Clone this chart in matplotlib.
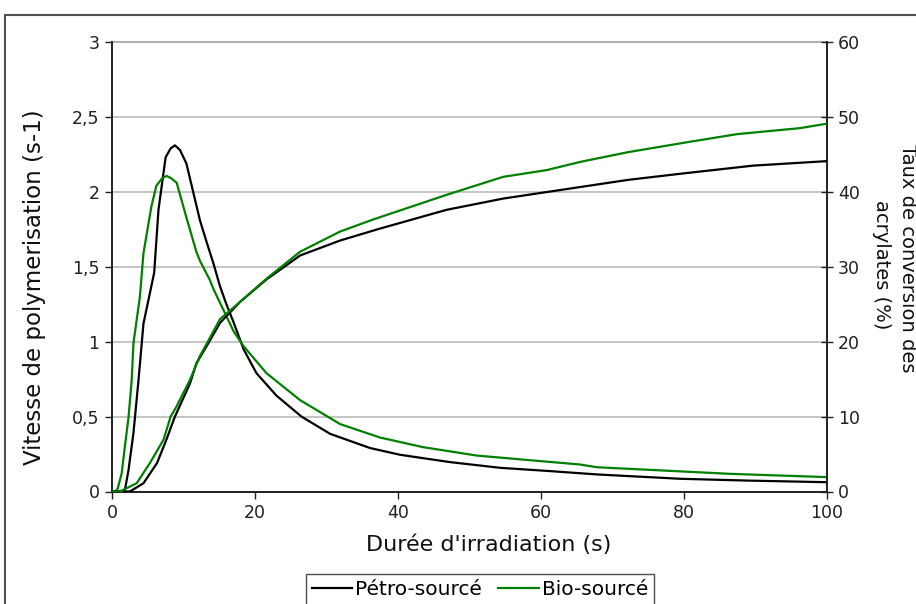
import matplotlib
matplotlib.use("Agg")
import matplotlib.pyplot as plt
from matplotlib.patches import Rectangle
from matplotlib.lines import Line2D

# ---- data ----
t_rate_petro = [0, 1.0, 1.8, 2.3, 3.0, 3.7, 4.4, 5.9, 6.5, 7.5, 8.2, 8.8, 9.5, 10.4, 11.4, 12.3,
                13.2, 14.2, 15.1, 16.0, 17.0, 18.4, 20.2, 23.0, 26.5, 30.5, 36.1, 40.3, 47.3,
                54.3, 61.3, 67.8, 79.4, 88.8, 100]
rate_petro = [0, 0, 0.01, 0.14, 0.39, 0.74, 1.12, 1.46, 1.88, 2.23, 2.29, 2.31, 2.28, 2.19, 1.99, 1.81,
              1.67, 1.52, 1.37, 1.25, 1.13, 0.95, 0.79, 0.64, 0.50, 0.385, 0.29, 0.245, 0.196,
              0.158, 0.136, 0.114, 0.085, 0.073, 0.062]

t_rate_bio = [0, 0.5, 0.8, 1.35, 1.8, 2.3, 2.75, 3.0, 3.9, 4.4, 5.5, 6.2, 7.0, 7.65, 8.3, 9.05,
              10.4, 11.8, 12.3, 13.7, 14.2, 15.1, 16.0, 17.0, 18.4, 21.6, 26.3, 31.9, 37.5, 43.5,
              51.0, 58.9, 65.5, 67.8, 77.1, 86.4, 100]
rate_bio = [0, 0, 0.02, 0.12, 0.30, 0.49, 0.74, 0.99, 1.30, 1.59, 1.90, 2.04, 2.09, 2.106, 2.09, 2.06,
            1.83, 1.60, 1.54, 1.41, 1.35, 1.26, 1.17, 1.07, 0.97, 0.79, 0.61, 0.45, 0.36, 0.296,
            0.24, 0.207, 0.18, 0.162, 0.14, 0.118, 0.096]

t_conv_petro = [0, 2.5, 4.4, 6.3, 7.6, 8.8, 10.9, 11.8, 13.6, 15.1, 16.5, 17.9, 21.6, 26.3, 31.9,
                37.5, 46.8, 54.7, 63.1, 72.2, 80.3, 89.7, 100]
conv_petro = [0, 0, 1.1, 3.8, 6.9, 10.0, 14.4, 17.1, 20.0, 22.5, 23.9, 25.3, 28.3, 31.5, 33.5,
              35.1, 37.6, 39.1, 40.3, 41.6, 42.5, 43.5, 44.1]

t_conv_bio = [0, 1.1, 3.45, 5.3, 7.2, 8.2, 9.0, 10.9, 12.3, 13.4, 15.1, 17.9, 21.6, 26.3, 31.9,
              36.5, 46.8, 54.7, 60.8, 65.5, 72.2, 80.3, 87.4, 96.2, 100]
conv_bio = [0, 0, 1.1, 3.8, 6.9, 10.0, 11.3, 14.9, 18.1, 20.0, 23.0, 25.3, 28.4, 32.0, 34.7,
            36.3, 39.6, 42.0, 42.9, 44.0, 45.3, 46.6, 47.7, 48.5, 49.1]

left_ticks = [0, 0.5, 1, 1.5, 2, 2.5, 3]
left_labels = ["0", "0,5", "1", "1,5", "2", "2,5", "3"]
right_ticks = [0, 10, 20, 30, 40, 50, 60]
x_ticks = [0, 20, 40, 60, 80, 100]

series_names = ["Pétro-sourcé", "Bio-sourcé"]
BLACK = "#000000"
GREEN = "#008000"

W, H = 916, 604
fig = plt.figure(figsize=(W / 100, H / 100), dpi=100)
ax = fig.add_axes([112 / W, 1 - 491.5 / H, (827 - 112) / W, (491.5 - 42) / H])
ax2 = ax.twinx()

ax.plot(t_rate_petro, rate_petro, color=BLACK, lw=1.6, zorder=3)
ax.plot(t_rate_bio, rate_bio, color=GREEN, lw=1.6, zorder=3)
ax2.plot(t_conv_petro, conv_petro, color=BLACK, lw=1.6, zorder=3)
ax2.plot(t_conv_bio, conv_bio, color=GREEN, lw=1.6, zorder=3)

ax.set_xlim(0, 100)
ax.set_ylim(0, 3)
ax2.set_ylim(0, 60)

ax.set_xticks(x_ticks)
ax.set_yticks(left_ticks)
ax.set_yticklabels(left_labels)
ax2.set_yticks(right_ticks)

for a in (ax, ax2):
    a.spines["top"].set_visible(False)
    for s in ("left", "right", "bottom"):
        a.spines[s].set_color("#202020")
        a.spines[s].set_linewidth(1.2)

ax.grid(axis="y", color="#c0c0c0", lw=1.3, zorder=0)
ax.set_axisbelow(True)
ax.axhline(3, color="#b0b0b0", lw=1.5, zorder=1, clip_on=False)

tick_font = 12.5
ax.tick_params(axis="both", labelsize=tick_font, length=5, width=1, color="#202020",
               labelcolor="#202020", direction="out", pad=4)
ax2.tick_params(axis="y", labelsize=tick_font, length=8, width=1, color="#202020",
                labelcolor="#202020", direction="inout", pad=4)

fig.text(35 / W, 1 - 287 / H, "Vitesse de polymerisation (s-1)", rotation=90,
         ha="center", va="center", fontsize=16.5, color="#101010")
fig.text(489 / W, 1 - 545 / H, "Durée d'irradiation (s)", ha="center", va="center",
         fontsize=16, color="#101010")
fig.text(908 / W, 1 - 258 / H, "Taux de conversion des", rotation=270,
         ha="center", va="center", fontsize=14, color="#101010")
fig.text(881 / W, 1 - 265 / H, "acrylates (%)", rotation=270,
         ha="center", va="center", fontsize=14, color="#101010")

handles = [Line2D([], [], color=BLACK, lw=1.6), Line2D([], [], color=GREEN, lw=1.6)]
leg = fig.legend(handles, series_names, loc="upper center",
                 bbox_to_anchor=(480 / W, 1 - 574 / H), ncol=2, fontsize=14.5,
                 frameon=True, fancybox=False, handlelength=2.0, handletextpad=0.15,
                 columnspacing=0.8, borderpad=0.3, borderaxespad=0)
leg.get_frame().set_edgecolor("#202020")
leg.get_frame().set_linewidth(1.0)

border = Rectangle((5 / W, -0.1), 1.2, (1 - 15 / H) + 0.1, transform=fig.transFigure,
                   fill=False, edgecolor="#505050", lw=1.5, clip_on=False)
fig.patches.append(border)

fig.savefig("out.png", dpi=100)
